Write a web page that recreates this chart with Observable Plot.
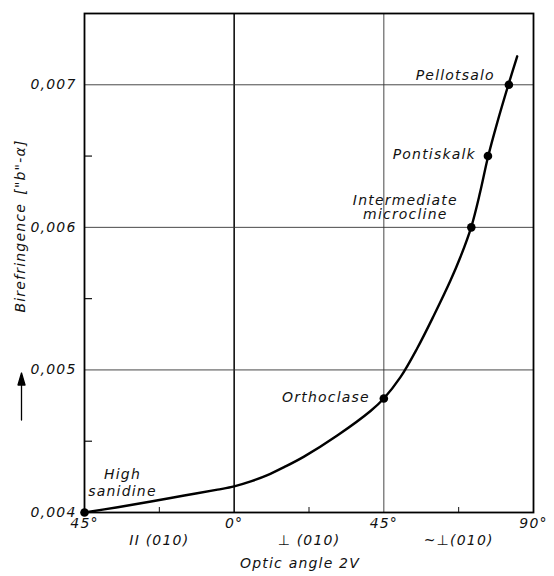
<!DOCTYPE html>
<html><head><meta charset="utf-8">
<script src="https://cdn.jsdelivr.net/npm/d3@7"></script>
<script src="https://cdn.jsdelivr.net/npm/@observablehq/plot@0.6"></script>
<style>body{margin:0;background:#fff}</style>
</head><body><div id="chart"></div>
<script>
// Curve: optic angle 2V (negative = optic plane || (010)) vs birefringence
const curveAngle = [-45, -35, -25, -15, -5, 0, 5, 10, 15, 21, 31, 41, 45, 50, 55, 60, 65, 68, 71.3, 74, 76.3, 79.1, 82.6, 85.1];
const curveBiref = [0.004, 0.004037, 0.004077, 0.004119, 0.00416, 0.004183, 0.004218, 0.004262, 0.004318, 0.004392, 0.00454, 0.004712, 0.0048, 0.004949, 0.00515, 0.00538, 0.005625, 0.00579, 0.006004, 0.006251, 0.006492, 0.006735, 0.007012, 0.0072];

const minerals = ["High\nsanidine", "Orthoclase", "Intermediate\nmicrocline", "Pontiskalk", "Pellotsalo"];
const mineralAngle = [-45, 45, 71.3, 76.3, 82.6];
const mineralBiref = [0.004, 0.0048, 0.006, 0.0065, 0.007];

const xTicks = [-45, 0, 45, 90];
const xMinorTicks = [-22.5, 22.5, 67.5];
const yTicks = [0.004, 0.005, 0.006, 0.007];
const yMinorTicks = [0.0045, 0.0055, 0.0065];
const orientationLabels = ["II (010)", "\u22A5 (010)", "~\u22A5(010)"];
const orientationAngle = [-22.5, 22.5, 67.5];
const xLabel = "Optic angle 2V";
const yLabel = "Birefringence\u2002[\"b\"-\u03B1]";

const curve = curveAngle.map((x, i) => ({x, y: curveBiref[i]}));
const pts = minerals.map((name, i) => ({name, x: mineralAngle[i], y: mineralBiref[i]}));
const fmtY = d => d.toFixed(3).replace(".", ",");

const place = [
  {textAnchor: "middle", dx: 38, dy: -30, lineHeight: 1.2},
  {textAnchor: "end", dx: -14, dy: -1},
  {textAnchor: "middle", dx: -66, dy: -20, lineHeight: 1.05},
  {textAnchor: "end", dx: -12, dy: -2},
  {textAnchor: "end", dx: -14, dy: -9}
];

// upward arrow with filled head (decoration next to the y label)
const arrowShape = {
  draw(context, l) {
    context.moveTo(0, 0);
    context.lineTo(0, -l + 9);
    context.moveTo(0, -l);
    context.lineTo(-3.5, -l + 12);
    context.lineTo(3.5, -l + 12);
    context.closePath();
  }
};

const chart = Plot.plot({
  width: 554, height: 576,
  marginLeft: 84, marginRight: 21, marginTop: 13, marginBottom: 64,
  style: {fontFamily: "DejaVu Sans", fontStyle: "italic", fontSize: "14px", letterSpacing: "1.2px", color: "#111", background: "#fff", overflow: "visible"},
  x: {domain: [-45, 90]},
  y: {domain: [0.004, 0.0075]},
  marks: [
    Plot.ruleX(xTicks.filter(d => d !== 0), {stroke: "#333", strokeWidth: 0.9}),
    Plot.ruleX(xTicks.filter(d => d === 0), {stroke: "#111", strokeWidth: 1.6}),
    Plot.ruleY(yTicks, {stroke: "#333", strokeWidth: 0.9}),
    Plot.axisX(xTicks, {tickSize: 0, tickPadding: 6, tickFormat: d => Math.abs(d) + "°", label: null}),
    Plot.axisX(xMinorTicks, {tickSize: -5, tickFormat: () => "", strokeWidth: 1, label: null}),
    Plot.axisY(yTicks, {tickSize: 0, tickPadding: 8, tickFormat: fmtY, label: null}),
    Plot.axisY(yMinorTicks, {tickSize: -8, tickFormat: () => "", strokeWidth: 1.2, label: null}),
    Plot.frame({stroke: "#000", strokeWidth: 1.8}),
    Plot.line(curve, {x: "x", y: "y", curve: "catmull-rom", stroke: "#000", strokeWidth: 2.4}),
    Plot.dot(pts, {x: "x", y: "y", r: 4.3, fill: "#000"}),
    ...place.map((p, i) => Plot.text(pts.filter((d, j) => j === i), {x: "x", y: "y", text: "name", lineAnchor: "middle", fill: "#111", ...p})),
    Plot.text(orientationLabels, {x: orientationAngle, text: d => d, frameAnchor: "bottom", dy: 32}),
    Plot.text([xLabel], {text: d => d, frameAnchor: "bottom", textAnchor: "middle", dy: 55, dx: -9}),
    Plot.text([yLabel], {text: d => d, frameAnchor: "left", textAnchor: "middle", rotate: -90, dx: -64, dy: -37}),
    Plot.vector([0], {frameAnchor: "left", dx: -63, dy: 157, length: 47, anchor: "start", shape: arrowShape, stroke: "#000", fill: "#000", strokeWidth: 1.3})
  ]
});
document.getElementById("chart").appendChild(chart);
</script>
</body></html>
